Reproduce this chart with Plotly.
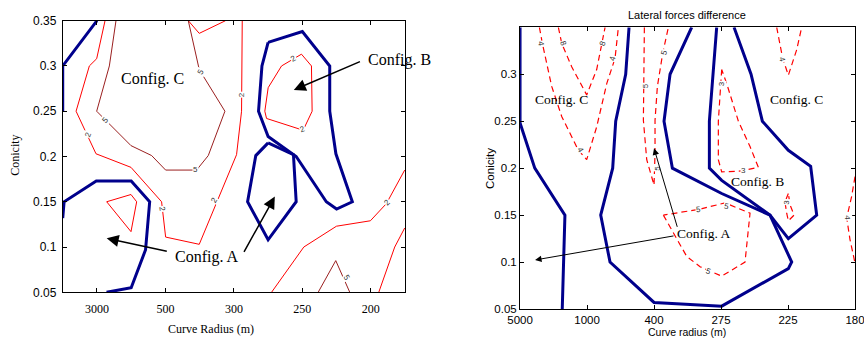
import plotly.graph_objects as go

# ---------------- data: left panel (x = category index, y = conicity) ----------------
L_X_TICKS = ["3000", "500", "300", "250", "200"]
L_Y_TICKS = ["0.05", "0.1", "0.15", "0.2", "0.25", "0.3", "0.35"]
L_Y_VALS = [0.05, 0.10, 0.15, 0.20, 0.25, 0.30, 0.35]

# thick blue configuration boundaries
LB1_X = [1.0, 0.5, 0.5]
LB1_Y = [0.35, 0.30, 0.25]
LB2_X = [0.5, 0.52, 0.99, 1.50, 1.77, 1.71, 1.50, 1.14]
LB2_Y = [0.132, 0.150, 0.173, 0.173, 0.150, 0.097, 0.055, 0.050]
LB3_X = [3.50, 4.00, 4.40, 4.40, 4.49, 4.73, 4.50, 4.35, 3.91, 3.50, 3.36, 3.41, 3.50]
LB3_Y = [0.326, 0.338, 0.300, 0.250, 0.203, 0.150, 0.142, 0.150, 0.200, 0.222, 0.250, 0.300, 0.326]
LB4_X = [3.50, 3.87, 3.91, 3.50, 3.20, 3.32, 3.50]
LB4_Y = [0.215, 0.202, 0.150, 0.108, 0.150, 0.201, 0.215]

# level-2 contours (red)
LR2A_X = [1.118, 0.996, 0.889, 0.695, 0.986, 1.497, 1.944, 2.003, 2.494, 3.039, 3.112, 3.122]
LR2A_Y = [0.350, 0.308, 0.300, 0.250, 0.203, 0.188, 0.150, 0.111, 0.103, 0.202, 0.250, 0.350]
LR2B_X = [2.334, 2.494, 2.878]
LR2B_Y = [0.350, 0.336, 0.350]
LR2C_X = [1.142, 1.497, 1.580, 1.497, 1.142]
LR2C_Y = [0.150, 0.158, 0.150, 0.117, 0.150]
LR2D_X = [3.987, 4.133, 4.143, 4.012, 3.477, 3.452, 3.501, 3.696, 3.987]
LR2D_Y = [0.313, 0.300, 0.250, 0.229, 0.242, 0.250, 0.276, 0.300, 0.313]
LR2E_X = [3.550, 4.021, 4.498, 4.994, 5.228, 5.495]
LR2E_Y = [0.050, 0.100, 0.123, 0.129, 0.148, 0.185]
LR2F_X = [5.116, 5.349, 5.495]
LR2F_Y = [0.050, 0.100, 0.121]
# level-5 contours (dark red)
LR5A_X = [1.278, 1.181, 0.996, 1.497, 1.799, 2.003, 2.455, 2.626, 2.869, 2.494, 2.334]
LR5A_Y = [0.350, 0.300, 0.250, 0.212, 0.201, 0.185, 0.185, 0.201, 0.250, 0.296, 0.350]
LR5B_X = [4.231, 4.488, 4.693]
LR5B_Y = [0.050, 0.085, 0.050]

L_LAB_TXT = ["2", "5", "2", "5", "5", "2", "2", "2", "2", "2", "5"]
L_LAB_X = [0.875, 1.118, 1.959, 2.445, 2.518, 3.122, 2.723, 3.875, 3.997, 5.242, 4.644]
L_LAB_Y = [0.224, 0.240, 0.142, 0.186, 0.294, 0.268, 0.152, 0.308, 0.230, 0.149, 0.066]
L_LAB_ANG = [-70, -50, 80, 0, -60, -90, -60, -30, -20, -45, 60]

# ---------------- data: right panel ----------------
R_X_TICKS = ["5000", "1000", "400", "275", "225", "180"]
R_Y_TICKS = ["0.05", "0.1", "0.15", "0.2", "0.25", "0.3"]
R_Y_VALS = [0.05, 0.10, 0.15, 0.20, 0.25, 0.30]

RB1_X = [0.0, 0.0, 0.22, 0.67, 0.63]
RB1_Y = [0.350, 0.248, 0.200, 0.150, 0.050]
RB2_X = [1.627, 1.577, 1.428, 1.383, 1.204, 1.343, 2.000, 3.010, 4.005, 4.055, 3.731, 3.010, 2.274, 2.149, 2.239, 2.562]
RB2_Y = [0.350, 0.300, 0.250, 0.200, 0.150, 0.100, 0.057, 0.053, 0.093, 0.100, 0.150, 0.173, 0.200, 0.250, 0.300, 0.350]
RB3_X = [2.935, 2.826, 2.826, 3.010, 3.731, 4.005, 4.428, 4.338, 4.005, 3.617, 3.448, 3.194]
RB3_Y = [0.350, 0.250, 0.200, 0.187, 0.150, 0.125, 0.150, 0.202, 0.219, 0.250, 0.300, 0.350]

RD4A_X = [0.289, 0.333, 0.473, 0.622, 0.871, 0.995, 1.144, 1.294, 1.418, 1.468]
RD4A_Y = [0.350, 0.333, 0.287, 0.255, 0.219, 0.209, 0.244, 0.290, 0.317, 0.350]
RD8_X = [0.572, 0.622, 0.771, 0.995, 1.144, 1.219, 1.269]
RD8_Y = [0.350, 0.333, 0.308, 0.278, 0.305, 0.331, 0.350]
RD5A_X = [1.856, 1.841, 1.841, 1.891, 2.000, 2.015, 2.015, 2.050, 2.129, 2.214]
RD5A_Y = [0.350, 0.290, 0.251, 0.209, 0.182, 0.216, 0.251, 0.287, 0.322, 0.350]
RD3A_X = [3.010, 2.975, 2.960, 2.960, 3.010, 3.308, 3.557, 3.433, 3.259, 3.085, 3.010]
RD3A_Y = [0.305, 0.273, 0.250, 0.209, 0.196, 0.197, 0.201, 0.223, 0.250, 0.290, 0.305]
RD3B_X = [4.005, 3.955, 3.980, 4.005, 4.090, 4.030, 4.005]
RD3B_Y = [0.173, 0.164, 0.152, 0.144, 0.150, 0.161, 0.173]
RD5B_X = [2.139, 2.488, 2.687, 3.010, 3.358, 3.433, 3.060, 2.662, 2.139]
RD5B_Y = [0.150, 0.106, 0.095, 0.085, 0.100, 0.152, 0.163, 0.156, 0.150]
RD4B_X = [3.831, 3.920, 4.005, 4.129, 4.204]
RD4B_Y = [0.350, 0.317, 0.299, 0.326, 0.350]
RD4C_X = [5.0, 4.950, 4.876, 4.925, 5.0]
RD4C_Y = [0.191, 0.170, 0.147, 0.124, 0.099]

R_LAB_TXT = ["4", "8", "8", "4", "4", "5", "5", "5", "3", "3", "3", "5", "5", "5", "4", "4"]
R_LAB_X = [0.313, 0.647, 1.229, 1.383, 0.905, 1.876, 2.154, 2.040, 3.010, 3.333, 3.980, 2.662, 3.085, 2.811, 3.915, 4.876]
R_LAB_Y = [0.333, 0.333, 0.333, 0.317, 0.219, 0.288, 0.323, 0.200, 0.290, 0.197, 0.164, 0.156, 0.159, 0.090, 0.316, 0.147]
R_LAB_ANG = [80, 70, -70, -75, 60, -90, -75, -90, -90, 0, -90, -5, 10, 20, 75, 90]

# ---------------- styles ----------------
NAVY = "#00008C"
RED = "#FF0000"
DARK_RED = "#9A1F1F"
SERIF = "Liberation Serif, Times New Roman, serif"
SANS = "Liberation Sans, Arial, sans-serif"

fig = go.Figure()


def add_line(xs, ys, color, width, xa="x", ya="y", dash="solid"):
    fig.add_trace(go.Scatter(x=xs, y=ys, mode="lines", xaxis=xa, yaxis=ya,
                             line=dict(color=color, width=width, dash=dash),
                             hoverinfo="skip", showlegend=False))


# left panel
for xs, ys in [(LR2A_X, LR2A_Y), (LR2B_X, LR2B_Y), (LR2C_X, LR2C_Y), (LR2D_X, LR2D_Y),
               (LR2E_X, LR2E_Y), (LR2F_X, LR2F_Y)]:
    add_line(xs, ys, RED, 1)
for xs, ys in [(LR5A_X, LR5A_Y), (LR5B_X, LR5B_Y)]:
    add_line(xs, ys, DARK_RED, 1)
for xs, ys in [(LB1_X, LB1_Y), (LB2_X, LB2_Y), (LB3_X, LB3_Y), (LB4_X, LB4_Y)]:
    add_line(xs, ys, NAVY, 3)

# right panel
for xs, ys in [(RD4A_X, RD4A_Y), (RD8_X, RD8_Y), (RD5A_X, RD5A_Y), (RD3A_X, RD3A_Y),
               (RD3B_X, RD3B_Y), (RD5B_X, RD5B_Y), (RD4B_X, RD4B_Y), (RD4C_X, RD4C_Y)]:
    add_line(xs, ys, RED, 1.2, "x2", "y2", "6px,4px")
for xs, ys in [(RB1_X, RB1_Y), (RB2_X, RB2_Y), (RB3_X, RB3_Y)]:
    add_line(xs, ys, NAVY, 3, "x2", "y2")

ann = []
# contour level labels
for t, x, y, a in zip(L_LAB_TXT, L_LAB_X, L_LAB_Y, L_LAB_ANG):
    ann.append(dict(text=t, x=x, y=y, xref="x", yref="y", showarrow=False, textangle=a,
                    font=dict(family=SANS, size=8, color="#333"), bgcolor="white", borderpad=0))
for t, x, y, a in zip(R_LAB_TXT, R_LAB_X, R_LAB_Y, R_LAB_ANG):
    ann.append(dict(text=t, x=x, y=y, xref="x2", yref="y2", showarrow=False, textangle=a,
                    font=dict(family=SANS, size=8, color="#333"), bgcolor="white", borderpad=0))

# configuration texts
for t, x, y in [("Config. C", 1.813, 0.286), ("Config. B", 5.42, 0.3066), ("Config. A", 2.601, 0.0895)]:
    ann.append(dict(text=t, x=x, y=y, xref="x", yref="y", showarrow=False,
                    xanchor="center", yanchor="middle",
                    font=dict(family=SERIF, size=16, color="black")))
for t, x, y in [("Config. C", 0.622, 0.2726), ("Config. C", 4.129, 0.2733),
                ("Config. B", 3.542, 0.1856), ("Config. A", 2.746, 0.1306)]:
    ann.append(dict(text=t, x=x, y=y, xref="x2", yref="y2", showarrow=False,
                    xanchor="center", yanchor="middle",
                    font=dict(family=SERIF, size=13.5, color="black")))

# arrows (head at x/y, tail at ax/ay)
for hx, hy, tx, ty in [(3.875, 0.2735, 4.863, 0.3055), (1.142, 0.1097, 2.042, 0.095),
                       (3.598, 0.1557, 3.136, 0.0931)]:
    ann.append(dict(text="", x=hx, y=hy, ax=tx, ay=ty, xref="x", yref="y", axref="x", ayref="y",
                    showarrow=True, arrowhead=2, arrowsize=1.6, arrowwidth=1.5, arrowcolor="black",
                    standoff=0, startstandoff=0))
for hx, hy, tx, ty in [(2.0, 0.2211, 2.353, 0.1359), (0.224, 0.1022, 2.313, 0.1281)]:
    ann.append(dict(text="", x=hx, y=hy, ax=tx, ay=ty, xref="x2", yref="y2", axref="x2", ayref="y2",
                    showarrow=True, arrowhead=2, arrowsize=1.3, arrowwidth=1, arrowcolor="black",
                    standoff=0, startstandoff=0))

# titles (paper coordinates, centred)
ann += [
    dict(text="Lateral forces difference", x=0.7957, y=0.9556, xref="paper", yref="paper",
         xanchor="center", yanchor="middle",
         showarrow=False, font=dict(family=SANS, size=11, color="black")),
    dict(text="Conicity", x=0.0174, y=0.5393, xref="paper", yref="paper", textangle=-90,
         xanchor="center", yanchor="middle",
         showarrow=False, font=dict(family=SERIF, size=12, color="black")),
    dict(text="Curve Radius (m)", x=0.2442, y=0.0266, xref="paper", yref="paper",
         xanchor="center", yanchor="middle",
         showarrow=False, font=dict(family=SERIF, size=12, color="black")),
    dict(text="Conicity", x=0.5671, y=0.503, xref="paper", yref="paper", textangle=-90,
         xanchor="center", yanchor="middle",
         showarrow=False, font=dict(family=SANS, size=11.5, color="black")),
    dict(text="Curve radius (m)", x=0.7948, y=0.0186, xref="paper", yref="paper",
         xanchor="center", yanchor="middle",
         showarrow=False, font=dict(family=SANS, size=10.5, color="black")),
]

axis_common = dict(showgrid=False, zeroline=False, showline=True, linecolor="black", linewidth=1,
                   ticks="inside", ticklen=4, tickcolor="black", mirror="allticks",
                   automargin=False, ticklabeloverflow="allow")

fig.update_layout(
    width=864, height=338, margin=dict(l=0, r=0, t=0, b=0),
    paper_bgcolor="white", plot_bgcolor="white", showlegend=False,
    xaxis=dict(domain=[0.0726, 0.4688], range=[0.5, 5.5], tickvals=[1, 2, 3, 4, 5],
               ticktext=L_X_TICKS, tickfont=dict(family=SERIF, size=12, color="black"),
               anchor="y", ticklabelstandoff=5, **axis_common),
    yaxis=dict(domain=[0.1352, 0.9388], range=[0.05, 0.35], tickvals=L_Y_VALS,
               ticktext=L_Y_TICKS, tickfont=dict(family=SANS, size=12, color="black"),
               anchor="x", ticklabelstandoff=3, **axis_common),
    xaxis2=dict(domain=[0.6019, 0.9896], range=[0, 5], tickvals=[0, 1, 2, 3, 4, 5],
                ticktext=R_X_TICKS, tickfont=dict(family=SANS, size=11.5, color="black"),
                anchor="y2", **axis_common),
    yaxis2=dict(domain=[0.0858, 0.9192], range=[0.05, 0.35], tickvals=R_Y_VALS,
                ticktext=R_Y_TICKS, tickfont=dict(family=SANS, size=11.5, color="black"),
                anchor="x2", **axis_common),
    annotations=ann,
)

fig.write_html("out.html", config={"displayModeBar": False},
               post_script="document.body.style.margin='0';")
